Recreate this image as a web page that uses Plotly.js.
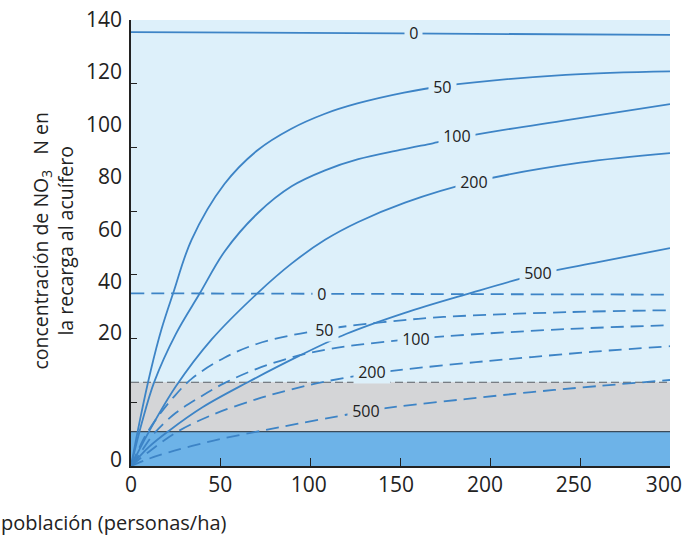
<!DOCTYPE html>
<html>
<head>
<meta charset="utf-8">
<script src="https://cdn.plot.ly/plotly-3.0.1.min.js"></script>
<style>html,body{margin:0;padding:0;background:#fff;}#chart{width:689px;height:540px;}</style>
</head>
<body>
<div id="chart"></div>
<script>
// ---- data ----
const xTickVals = [0, 50, 100, 150, 200, 250, 300];
const xLabelPos = [0, 49.7, 99, 147.5, 197, 246.4, 296.6];
const xLabelText = ['0', '50', '100', '150', '200', '250', '300'];
const yTickVals = [0, 20, 40, 60, 80, 100, 120, 140];
const yLabelPos = [140, 123.7, 107, 90.7, 74.1, 57.8, 41.8, 2];
const yLabelText = ['140', '120', '100', '80', '60', '40', '20', '0'];

const blueBandTop = 10.8;
const grayBandTop = 26.3;

const solid0X = [0, 150, 300];
const solid0Y = [136.2, 135.8, 135.3];
const solid50X = [0, 5, 11, 17, 23.5, 33.7, 52, 70.6, 89, 107.6, 126, 152, 173, 242, 300];
const solid50Y = [0, 14.5, 30, 43, 54.3, 71, 88.5, 99.2, 105.8, 110.5, 113.8, 117.2, 119.2, 122.8, 123.9];
const solid100X = [0, 6, 13, 25, 38.4, 52.3, 70.8, 89.4, 108, 126.5, 149.7, 168, 189.6, 242.6, 300];
const solid100Y = [0, 13.5, 26.5, 41.5, 54.3, 67.5, 79.5, 87.8, 92.8, 96.3, 99.2, 101.3, 103.8, 108.6, 113.6];
const solid200X = [0, 10, 25, 45, 70.9, 89.5, 108, 126.5, 152.5, 191, 250, 300];
const solid200Y = [0, 10.8, 25, 39.8, 54.5, 63.6, 71, 76.6, 82.7, 89.2, 95.2, 98.2];
const solid500X = [0, 10, 21, 40, 65, 93, 120, 152, 186, 227, 260, 300];
const solid500Y = [0, 6, 11, 18.5, 26.3, 34.4, 41.5, 48, 53.8, 60.3, 64, 68.4];

const dashed0X = [0, 150, 300];
const dashed0Y = [54.2, 54, 53.8];
const dashed50X = [0, 4, 8, 15, 23.5, 34, 52, 70, 89, 108, 126, 152, 174, 243, 300];
const dashed50Y = [0, 5, 9.5, 15.5, 21.5, 27.5, 34, 38.3, 41, 42.9, 44.3, 45.8, 46.8, 48.3, 48.9];
const dashed100X = [0, 6, 13, 25, 38, 52, 70, 89, 108, 126, 152, 182, 243, 300];
const dashed100Y = [0, 4.8, 10.3, 16.7, 21.5, 26, 30.5, 34, 36.5, 38, 39.6, 41, 43, 44.2];
const dashed200X = [0, 10, 25, 45, 70, 89, 108, 134, 152, 192, 223, 260, 300];
const dashed200Y = [0, 4.5, 10.5, 16, 21, 24, 26.5, 29, 30.3, 32.6, 34.2, 36, 37.6];
const dashed500X = [0, 10, 21, 34, 50, 74, 93, 115, 131, 149, 186, 223, 260, 300];
const dashed500Y = [0, 2.3, 4.3, 6.3, 8.5, 11.2, 13.3, 15.6, 17.2, 18.7, 21, 23.2, 25.1, 27];

// curve labels: [text, x, y, region]
const curveLabels = [
  ['0', 157.5, 135.9, 'blue'],
  ['50', 173.2, 119, 'blue'],
  ['100', 181.5, 103.6, 'blue'],
  ['200', 190.8, 89.3, 'blue'],
  ['500', 226.8, 60.6, 'blue'],
  ['0', 105.8, 54.1, 'blue'],
  ['50', 107.6, 42.8, 'blue'],
  ['100', 158.4, 39.9, 'blue'],
  ['200', 134.4, 29.6, 'blue'],
  ['500', 130.7, 17.2, 'gray']
];

// ---- styles ----
const FONT = 'Open Sans, Noto Sans, sans-serif';
const LINE = '#3d84c6';
const BG = '#ddf0fa';
const GRAY = '#d4d5d7';
const BLUE = '#6db3e8';

function curve(x, y, dashed) {
  return {
    x: x, y: y, type: 'scatter', mode: 'lines', hoverinfo: 'skip', showlegend: false,
    line: {color: LINE, width: 1.8, shape: 'spline', smoothing: 1, dash: dashed ? '13px,7px' : 'solid'}
  };
}

const traces = [
  curve(solid0X, solid0Y, false),
  curve(solid50X, solid50Y, false),
  curve(solid100X, solid100Y, false),
  curve(solid200X, solid200Y, false),
  curve(solid500X, solid500Y, false),
  curve(dashed0X, dashed0Y, true),
  curve(dashed50X, dashed50Y, true),
  curve(dashed100X, dashed100Y, true),
  curve(dashed200X, dashed200Y, true),
  curve(dashed500X, dashed500Y, true),
  {x: [0, 300], y: [0, 140], xaxis: 'x2', yaxis: 'y2', type: 'scatter', mode: 'markers',
   marker: {opacity: 0}, hoverinfo: 'skip', showlegend: false}
];

const annotations = curveLabels.map(l => ({
  text: '\u00a0' + l[0] + '\u00a0', x: l[1], y: l[2], xref: 'x', yref: 'y', showarrow: false,
  font: {family: FONT, size: 16, color: '#222'},
  bgcolor: l[3] === 'gray' ? GRAY : BG, borderpad: 0, xanchor: 'center', yanchor: 'middle'
}));
annotations.push({
  text: 'concentración de NO<sub>3</sub>\u00a0\u00a0\u00a0N en<br>la recarga al acuífero',
  xref: 'paper', yref: 'paper', x: -0.145, y: 0.505, textangle: -90, showarrow: false,
  xanchor: 'center', yanchor: 'middle', font: {family: FONT, size: 19.5, color: '#222'}
});
annotations.push({
  text: 'población (personas/ha)', xref: 'paper', yref: 'paper', x: -0.245, y: -0.1265,
  xanchor: 'left', yanchor: 'middle', showarrow: false, font: {family: FONT, size: 20, color: '#222'}
});

const layout = {
  width: 689, height: 540,
  margin: {l: 131, r: 19, t: 20, b: 73.5},
  paper_bgcolor: '#ffffff', plot_bgcolor: BG,
  showlegend: false,
  xaxis: {range: [0, 300], tickvals: xTickVals, showticklabels: false, ticks: 'inside', ticklen: 8,
          tickcolor: '#222', tickwidth: 1, showline: true, linecolor: '#222', linewidth: 1.6,
          showgrid: false, zeroline: false, fixedrange: true},
  yaxis: {range: [0, 140], tickvals: yTickVals, showticklabels: false, ticks: 'inside', ticklen: 6,
          tickcolor: '#222', tickwidth: 1, showline: true, linecolor: '#222', linewidth: 1.6,
          showgrid: false, zeroline: false, fixedrange: true},
  xaxis2: {range: [0, 300], overlaying: 'x', side: 'bottom', tickvals: xLabelPos, ticktext: xLabelText,
           ticks: '', showline: false, showgrid: false, zeroline: false, ticklabelstandoff: 4,
           tickfont: {family: FONT, size: 21, color: '#222'}},
  yaxis2: {range: [0, 140], overlaying: 'y', side: 'left', tickvals: yLabelPos, ticktext: yLabelText,
           ticks: '', showline: false, showgrid: false, zeroline: false, ticklabelstandoff: 8,
           tickfont: {family: FONT, size: 21, color: '#222'}},
  shapes: [
    {type: 'rect', xref: 'x', yref: 'y', x0: 0, x1: 300, y0: 0, y1: blueBandTop,
     fillcolor: BLUE, line: {width: 0}, layer: 'below'},
    {type: 'rect', xref: 'x', yref: 'y', x0: 0, x1: 300, y0: blueBandTop, y1: grayBandTop,
     fillcolor: GRAY, line: {width: 0}, layer: 'below'},
    {type: 'line', xref: 'x', yref: 'y', x0: 0, x1: 300, y0: blueBandTop, y1: blueBandTop,
     line: {color: '#3b4a58', width: 1.3}, layer: 'below'},
    {type: 'line', xref: 'x', yref: 'y', x0: 0, x1: 300, y0: grayBandTop, y1: grayBandTop,
     line: {color: '#5a5f66', width: 1.1, dash: '8px,4px'}, layer: 'below'}
  ],
  annotations: annotations
};

Plotly.newPlot('chart', traces, layout, {staticPlot: true, displayModeBar: false});
</script>
</body>
</html>
